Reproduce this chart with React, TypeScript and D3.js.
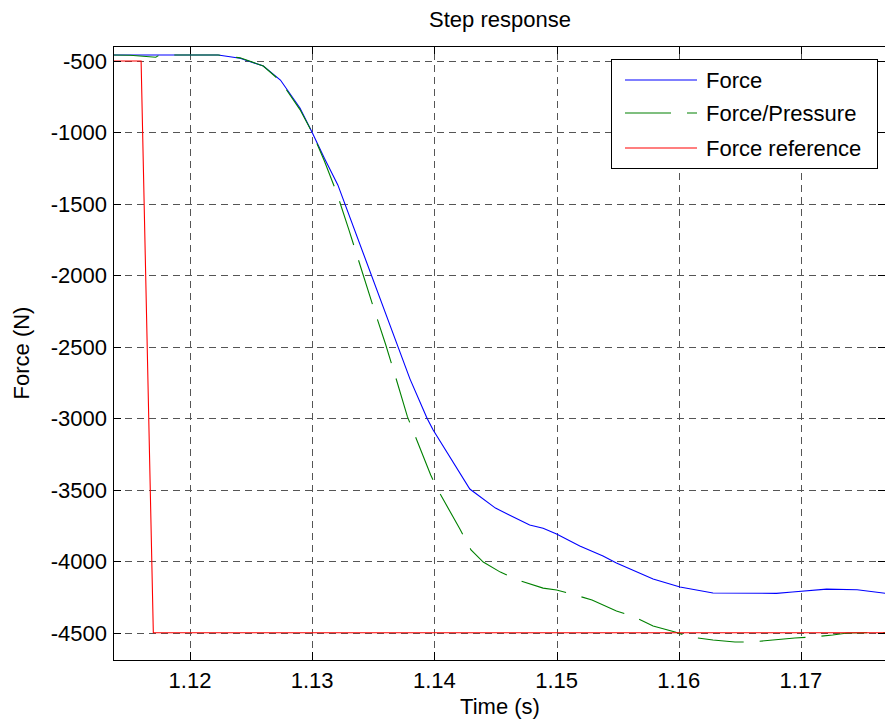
import React from "react";
import * as d3 from "d3";

// Time axis samples (s) and force values (N) for each trace
const forceT = [1.1137, 1.1223, 1.1241, 1.126, 1.1274, 1.129, 1.13, 1.131, 1.1321, 1.138, 1.1394, 1.1399, 1.1429, 1.145, 1.1478, 1.1489, 1.15, 1.1519, 1.1538, 1.1549, 1.1579, 1.1601, 1.1628, 1.168, 1.1693, 1.1721, 1.1746, 1.177];
const forceY = [-458, -458, -481, -535, -633, -829, -1000, -1180, -1367, -2724, -3000, -3082, -3495, -3628, -3747, -3769, -3810, -3894, -3964, -4013, -4124, -4180, -4222, -4225, -4215, -4195, -4200, -4225];

const pressureT = [1.1137, 1.1151, 1.1172, 1.1175, 1.1223, 1.1241, 1.126, 1.1274, 1.129, 1.13, 1.131, 1.132, 1.133, 1.134, 1.135, 1.136, 1.1369, 1.1378, 1.1383, 1.1397, 1.1402, 1.1421, 1.1427, 1.143, 1.144, 1.1454, 1.1468, 1.1489, 1.15, 1.1515, 1.1529, 1.1549, 1.1562, 1.1579, 1.1597, 1.1609, 1.1628, 1.1646, 1.166, 1.1677, 1.1695, 1.171, 1.1726, 1.1738, 1.177];
const pressureY = [-458, -460, -474, -458, -458, -478, -535, -640, -840, -1000, -1200, -1420, -1680, -1950, -2220, -2480, -2732, -2990, -3096, -3397, -3488, -3776, -3874, -3921, -4006, -4076, -4131, -4188, -4201, -4236, -4271, -4348, -4383, -4453, -4495, -4530, -4551, -4565, -4565, -4551, -4537, -4530, -4516, -4502, -4498];

const referenceT = [1.1137, 1.116, 1.117, 1.177];
const referenceY = [-500, -500, -4500, -4500];

const xTicks = [1.12, 1.13, 1.14, 1.15, 1.16, 1.17];
const yTicks = [-500, -1000, -1500, -2000, -2500, -3000, -3500, -4000, -4500];

const seriesNames = ["Force", "Force/Pressure", "Force reference"];
const seriesColors = ["#0000ff", "#008000", "#ff0000"];

const W = 885;
const H = 727;
const left = 113;
const right = 886;
const top = 46;
const bottom = 660;

const FONT = "'Liberation Sans', Arial, Helvetica, sans-serif";
const FS = 22;
const DASH = "46,16";

export default function App() {
  const x = d3.scaleLinear().domain([1.1137, 1.17696]).range([left, right]);
  const y = d3
    .scaleLinear()
    .domain([-500, -4500])
    .range([61, 632.7]);

  const line = d3
    .line<[number, number]>()
    .x((d) => x(d[0]))
    .y((d) => y(d[1]));

  const zip = (t: number[], v: number[]) => t.map((ti, i) => [ti, v[i]] as [number, number]);
  const series = [zip(forceT, forceY), zip(pressureT, pressureY), zip(referenceT, referenceY)];

  const tickLen = 8;
  const gridColor = "#555";

  const legX = 611;
  const legY = 59;
  const legW = 266;
  const legH = 109;
  const rowY = [80, 113, 148];

  return (
    <svg
      width={W}
      height={H}
      style={{ position: "absolute", left: 0, top: 0, background: "#fff" }}
      fontFamily={FONT}
    >
      <defs>
        <clipPath id="plotClip">
          <rect x={left} y={top} width={right - left} height={bottom - top} />
        </clipPath>
      </defs>
      <rect x={0} y={0} width={W} height={H} fill="#fff" />

      {/* grid */}
      <g stroke={gridColor} strokeWidth={1} strokeDasharray="7,5" shapeRendering="crispEdges">
        {xTicks.map((t) => (
          <line key={"gx" + t} x1={Math.round(x(t)) + 0.5} x2={Math.round(x(t)) + 0.5} y1={bottom} y2={top} />
        ))}
        {yTicks.map((t) => (
          <line key={"gy" + t} x1={left} x2={right} y1={Math.round(y(t)) + 0.5} y2={Math.round(y(t)) + 0.5} />
        ))}
      </g>

      {/* data */}
      <g clipPath="url(#plotClip)" fill="none" strokeWidth={1.1}>
        <path d={line(series[0]) || ""} stroke={seriesColors[0]} />
        <path d={line(series[1]) || ""} stroke={seriesColors[1]} strokeDasharray={DASH} />
        <path d={line(series[2]) || ""} stroke={seriesColors[2]} />
      </g>

      {/* axes box and ticks */}
      <g stroke="#000" strokeWidth={1} shapeRendering="crispEdges" fill="none">
        <rect x={left + 0.5} y={top + 0.5} width={right - left} height={bottom - top} />
        {xTicks.map((t) => (
          <g key={"tx" + t}>
            <line x1={Math.round(x(t)) + 0.5} x2={Math.round(x(t)) + 0.5} y1={bottom} y2={bottom - tickLen} />
            <line x1={Math.round(x(t)) + 0.5} x2={Math.round(x(t)) + 0.5} y1={top} y2={top + tickLen} />
          </g>
        ))}
        {yTicks.map((t) => (
          <g key={"ty" + t}>
            <line x1={left} x2={left + tickLen} y1={Math.round(y(t)) + 0.5} y2={Math.round(y(t)) + 0.5} />
            <line x1={right} x2={right - tickLen} y1={Math.round(y(t)) + 0.5} y2={Math.round(y(t)) + 0.5} />
          </g>
        ))}
      </g>

      {/* tick labels */}
      <g fontSize={FS} fill="#000">
        {xTicks.map((t) => (
          <text key={"lx" + t} x={x(t)} y={688} textAnchor="middle">
            {d3.format(".2f")(t)}
          </text>
        ))}
        {yTicks.map((t) => (
          <text key={"ly" + t} x={107} y={y(t)} dy="0.36em" textAnchor="end">
            {t}
          </text>
        ))}
      </g>

      {/* titles */}
      <text x={500} y={27} fontSize={FS} textAnchor="middle" fill="#000">
        Step response
      </text>
      <text x={500} y={714} fontSize={FS} textAnchor="middle" fill="#000">
        Time (s)
      </text>
      <text
        transform={`translate(29,${(top + bottom) / 2}) rotate(-90)`}
        fontSize={FS}
        textAnchor="middle"
        fill="#000"
      >
        Force (N)
      </text>

      {/* legend */}
      <g>
        <rect
          x={legX + 0.5}
          y={legY + 0.5}
          width={legW}
          height={legH}
          fill="#fff"
          stroke="#000"
          strokeWidth={1}
          shapeRendering="crispEdges"
        />
        {seriesNames.map((name, i) => (
          <g key={name}>
            <line
              x1={625}
              x2={697}
              y1={rowY[i]}
              y2={rowY[i]}
              stroke={seriesColors[i]}
              strokeWidth={1.1}
              strokeDasharray={i === 1 ? DASH : undefined}
            />
            <text x={706} y={rowY[i]} dy="0.36em" fontSize={FS} fill="#000">
              {name}
            </text>
          </g>
        ))}
      </g>
    </svg>
  );
}
